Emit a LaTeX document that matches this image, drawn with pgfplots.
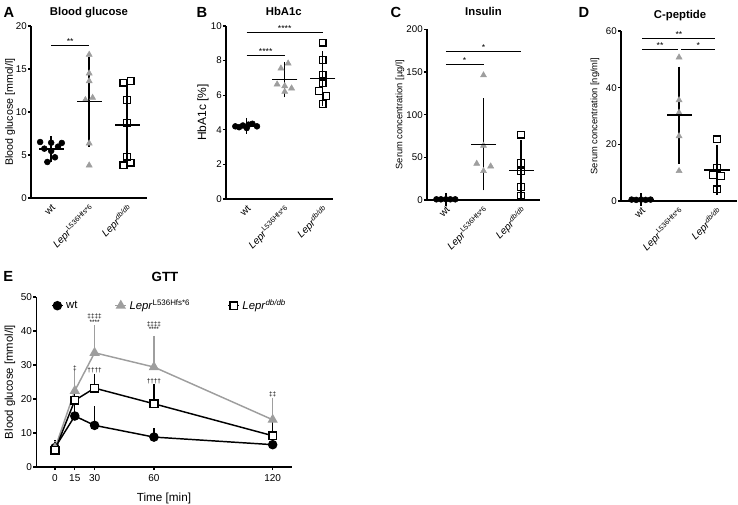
\documentclass[border=0pt]{standalone}
\usepackage{fontspec}
\setmainfont{Liberation Sans}
\usepackage{pgfplots}
\pgfplotsset{compat=1.18}

\definecolor{grtri}{gray}{0.62}

\pgfplotsset{
  panel/.style={
    scale only axis, anchor=south west,
    axis lines=left,
    axis line style={-, line width=0.9pt},
    ymin=0,
    tick align=outside,
    major tick length=2.4pt,
    ytick style={line width=0.9pt, black},
    xtick style={draw=none},
    xtick={1,2,3},
    xticklabels={wt, \textit{Lepr}\textsuperscript{L536Hfs*6}, \textit{Lepr}\textsuperscript{\textit{db/db}}},
    xticklabel style={rotate=45, anchor=north east, font=\fontsize{7.6}{8}\selectfont, inner sep=1pt},
    yticklabel style={font=\fontsize{7.3}{8}\selectfont, inner sep=0.6pt},
    ylabel style={font=\fontsize{8}{9}\selectfont, anchor=center},
    title style={anchor=base, font=\fontsize{8.5}{10}\selectfont\bfseries},
    /pgf/number format/assume math mode=true,
    clip=false,
  },
  wtpts/.style={only marks, mark=*, mark size=2.2pt, black},
  lppts/.style={only marks, mark=triangle*, mark size=2.6pt, grtri},
  dbpts/.style={only marks, mark=square, mark size=2.5pt, black, mark options={line width=0.9pt}},
  msd/.style={only marks, black, mark=-, mark size=9.4pt, mark options={line width=1.1pt},
    error bars/.cd, y dir=both, y explicit,
    error bar style={line width=1.1pt, black},
    error mark options={line width=1.1pt, mark size=4.7pt, black}},
}
\tikzset{
  sig/.style={line width=0.8pt},
  star/.style={font=\fontsize{6.5}{7}\selectfont, inner sep=0.3pt, anchor=south},
  dag/.style={font=\fontsize{4.8}{5}\selectfont, inner sep=0pt},
}

\begin{document}
\begin{tikzpicture}
\useasboundingbox (0,0) rectangle (553.5pt,378pt);

% panel letters
\node[font=\fontsize{11}{12}\selectfont\bfseries] at (6.75pt,369pt) {A};
\node[font=\fontsize{11}{12}\selectfont\bfseries] at (151.5pt,369pt) {B};
\node[font=\fontsize{11}{12}\selectfont\bfseries] at (297pt,369pt) {C};
\node[font=\fontsize{11}{12}\selectfont\bfseries] at (438pt,369pt) {D};
\node[font=\fontsize{11}{12}\selectfont\bfseries] at (6.2pt,171pt) {E};

% A: blood glucose
\begin{axis}[panel, at={(23.25pt,229.5pt)}, width=87pt, height=129pt,
  xmin=0.47, xmax=3.52, ymax=20, ytick={0,5,...,20},
  ylabel={Blood glucose [mmol/l]}, ylabel style={at={(axis description cs:-0.181,0.5)}},
  title={Blood glucose}, title style={at={(0.5,1)}, yshift=2.2pt}]
\addplot[wtpts] coordinates {(0.71,6.51) (1,6.43) (1.28,6.4) (0.82,5.74) (1.18,5.97) (1,5.47) (1.1,4.73) (0.9,4.19)};
\addplot[lppts] coordinates {(2,16.67) (2,14.5) (2,13.6) (1.9,11.4) (2.09,11.66) (2,6.36) (2,3.8)};
\addplot[dbpts] coordinates {(2.9,13.4) (3.09,13.6) (3,11.4) (3,8.76) (3,4.8) (2.9,3.8) (3.09,4.1)};
\addplot[msd] coordinates {(1,5.68) +- (0,0.79) (2,11.2) +- (0,4.5) (3,8.5) +- (0,4.35)};
\draw[sig] (axis cs:1,17.7) -- (axis cs:2,17.7) node[midway, star] {**};
\end{axis}

% B: HbA1c
\begin{axis}[panel, at={(169.5pt,228.75pt)}, width=80.25pt, height=129.75pt,
  xmin=0.455, xmax=3.27, ymax=10, ytick={0,2,...,10},
  ylabel={HbA1c [\%]}, ylabel style={font=\fontsize{9}{10}\selectfont, at={(axis description cs:-0.215,0.5)}},
  title={HbA1c}, title style={at={(0.54,1)}, yshift=2pt}]
\addplot[wtpts] coordinates {(0.7,4.2) (0.8,4.15) (0.9,4.25) (1,4.1) (1.05,4.3) (1.15,4.35) (1.27,4.2)};
\addplot[lppts] coordinates {(2.09,7.84) (1.9,7.55) (1.8,6.63) (2,6.53) (2.18,6.4) (2,6.2)};
\addplot[dbpts] coordinates {(3,9.04) (3,8.03) (3,7.2) (3,6.69) (2.9,6.24) (3.1,5.95) (3,5.49)};
\addplot[msd] coordinates {(1,4.22) +- (0,0.1) (2,6.9) +- (0,0.67) (3,6.95) +- (0,1.24)};
\draw[sig] (axis cs:1,9.6) -- (axis cs:3,9.6) node[midway, star] {****};
\draw[sig] (axis cs:1,8.28) -- (axis cs:2,8.28) node[midway, star] {****};
\end{axis}

% C: insulin
\begin{axis}[panel, at={(320.25pt,228pt)}, width=84.75pt, height=128pt,
  xmin=0.5, xmax=3.5, ymax=200, ytick={0,50,...,200},
  ylabel={Serum concentration [µg/l]}, ylabel style={font=\fontsize{7}{8}\selectfont, at={(axis description cs:-0.239,0.5)}},
  title={Insulin}, title style={at={(0.5,1)}, yshift=4.2pt}]
\addplot[wtpts] coordinates {(0.75,0.8) (0.87,0.8) (1,0.8) (1.12,0.8) (1.25,0.8)};
\addplot[lppts] coordinates {(2,146.2) (2,63.7) (1.82,42.6) (2.19,39.5) (2,34)};
\addplot[dbpts] coordinates {(3,76.6) (3,43.4) (3,33.6) (3,15.3) (3,5.1)};
\addplot[msd] coordinates {(1,0.8) +- (0,0.2) (2,65.2) +- (0,46.6) (3,34.8) +- (0,27.8)};
\draw[sig] (axis cs:1,173.6) -- (axis cs:3,173.6) node[midway, star] {*};
\draw[sig] (axis cs:1,158.7) -- (axis cs:2,158.7) node[midway, star] {*};
\end{axis}

% D: C-peptide
\begin{axis}[panel, at={(465.75pt,227.25pt)}, width=86.8pt, height=127.5pt,
  xmin=0.47, xmax=3.52, ymax=60, ytick={0,20,...,60},
  ylabel={Serum concentration [ng/ml]}, ylabel style={font=\fontsize{7}{8}\selectfont, at={(axis description cs:-0.224,0.5)}},
  title={C-peptide}, title style={at={(0.51,1)}, yshift=3.75pt}]
\addplot[wtpts] coordinates {(0.75,0.5) (0.87,0.4) (1,0.5) (1.12,0.4) (1.25,0.5)};
\addplot[lppts] coordinates {(2,50.7) (2,35.6) (2,31.2) (2,22.9) (2,10.6)};
\addplot[dbpts] coordinates {(3,21.8) (3,11.7) (2.9,9.1) (3.1,8.8) (3,4.1)};
\addplot[msd] coordinates {(1,0.5) +- (0,0.1) (2,30.3) +- (0,14.9) (3,11.0) +- (0,6.6)};
\draw[sig] (axis cs:1.03,57.4) -- (axis cs:2.96,57.4) node[midway, star] {**};
\draw[sig] (axis cs:1.03,53.5) -- (axis cs:1.97,53.5) node[midway, star] {**};
\draw[sig] (axis cs:2.06,53.5) -- (axis cs:2.96,53.5) node[midway, star] {*};
\end{axis}

% E: GTT
\begin{axis}[scale only axis, anchor=south west, at={(27.15pt,27.75pt)}, width=191.6pt, height=127.5pt,
  axis lines=left, axis line style={-, line width=0.9pt},
  xmin=0.5, xmax=129.6, ymin=0, ymax=50,
  xtick={10,20,30,60,120}, xticklabels={0,15,30,60,120},
  ytick={0,10,...,50},
  tick align=outside, major tick length=2.4pt, tick style={line width=0.9pt, black},
  ticklabel style={font=\fontsize{7.5}{8}\selectfont},
  yticklabel style={inner sep=0.6pt},
  xlabel={Time [min]}, xlabel style={font=\fontsize{8.8}{10}\selectfont, yshift=-1.2pt},
  ylabel={Blood glucose [mmol/l]},
  ylabel style={font=\fontsize{8.5}{9}\selectfont, at={(axis description cs:-0.1025,0.5)}, anchor=center},
  title={GTT}, title style={at={(0.504,1)}, anchor=base, yshift=6pt, font=\fontsize{10}{11}\selectfont\bfseries},
  /pgf/number format/assume math mode=true,
  clip=false,
  legend columns=3,
  legend style={draw=none, fill=none, at={(0.058,1)}, anchor=north west, inner sep=0pt,
    font=\fontsize{8.5}{9}\selectfont, /tikz/every even column/.append style={column sep=26pt}},
  legend cell align=left,
  legend image code/.code={\draw[mark repeat=2, mark phase=2, #1] plot coordinates {(0pt,0pt) (4pt,0pt) (8pt,0pt)};},
]
\addplot[black, line width=1.1pt, mark=*, mark size=3pt,
  error bars/.cd, y dir=plus, y explicit, error bar style={line width=0.9pt},
  error mark options={line width=0.9pt, mark size=2.8pt}]
  coordinates {(10,5.7) +- (0,1.0) (20,15.0) +- (0,3.0) (30,12.25) +- (0,4.45) (60,8.8) +- (0,1.5) (120,6.57) +- (0,0.8)};
\addlegendentry{wt}
\addplot[grtri, line width=1.1pt, mark=triangle*, mark size=3.4pt,
  error bars/.cd, y dir=plus, y explicit, error bar style={line width=0.9pt},
  error mark options={line width=0.9pt, mark size=2.8pt}]
  coordinates {(10,5.5) +- (0,1.0) (20,22.4) +- (0,4.9) (30,33.6) +- (0,7.0) (60,29.4) +- (0,8.1) (120,13.9) +- (0,5.4)};
\addlegendentry{\textit{Lepr}\textsuperscript{L536Hfs*6}}
\addplot[black, line width=1.1pt, mark=square*, mark size=2.9pt, mark options={fill=white},
  error bars/.cd, y dir=plus, y explicit, error bar style={line width=0.9pt},
  error mark options={line width=0.9pt, mark size=2.8pt}]
  coordinates {(10,4.9) +- (0,1.4) (20,19.6) +- (0,2.5) (30,23.2) +- (0,3.0) (60,18.6) +- (0,4.6) (120,9.2) +- (0,2.9)};
\addlegendentry{\textit{Lepr}\textsuperscript{\textit{db/db}}}
\node[dag] at (axis cs:20,28.9) {‡};
\node[dag] at (axis cs:30,44.3) {‡‡‡‡};
\node[dag] at (axis cs:30,42.5) {****};
\node[dag] at (axis cs:30,28.3) {††††};
\node[dag] at (axis cs:60,42.0) {‡‡‡‡};
\node[dag] at (axis cs:60,40.5) {****};
\node[dag] at (axis cs:60,25.1) {††††};
\node[dag] at (axis cs:120,21.4) {‡‡};
\end{axis}
\end{tikzpicture}
\end{document}
